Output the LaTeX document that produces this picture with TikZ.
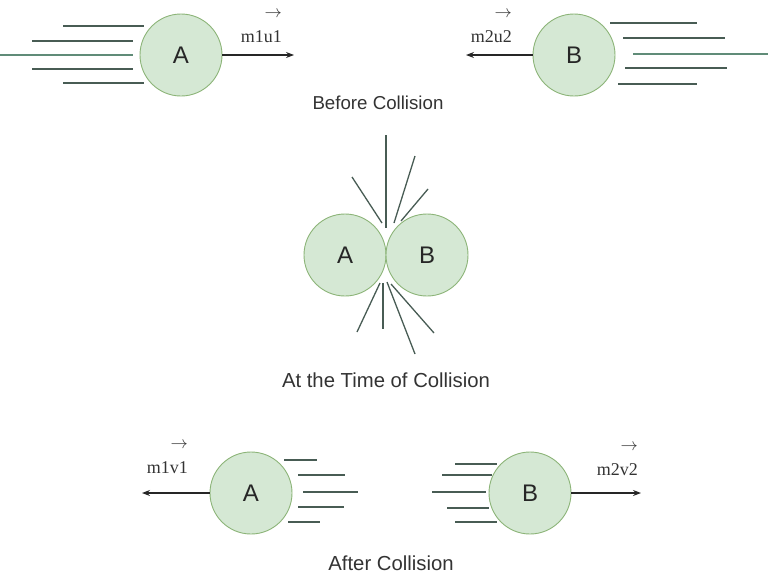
\documentclass[tikz,border=0pt]{standalone}
\usepackage{fontspec}
\usetikzlibrary{arrows.meta}
\setmainfont{Liberation Sans}
\newfontfamily\labelserif{Liberation Serif}
\definecolor{ballfill}{RGB}{213,232,212}
\definecolor{ballline}{RGB}{140,180,120}
\definecolor{streakcol}{RGB}{72,92,84}
\definecolor{streaklong}{RGB}{96,140,120}
\definecolor{textcol}{RGB}{51,51,51}
\begin{document}
\begin{tikzpicture}[x=1pt,y=-1pt,
    ball/.style={circle,draw=ballline,line width=0.9pt,fill=ballfill,minimum size=82pt,inner sep=0pt,
      font=\fontsize{24}{24}\selectfont,text=black!85},
    streak/.style={line width=1.3pt,streakcol},
    momentum/.style={line width=1.2pt,black!85,-{Stealth[length=8pt,width=6pt]}},
    vlabel/.style={anchor=south east,inner sep=0pt,align=right,font=\labelserif\fontsize{18}{25}\selectfont,text=black!80},
    caption/.style={font=\fontsize{20.3}{22}\selectfont,text=textcol}]
  \useasboundingbox (0,0) rectangle (768,576);
  % before collision
  \node[ball] (A1) at (181,55) {A};
  \node[ball] (B1) at (574,55) {B};
  \draw[streak](63,26)--(144,26);
  \draw[streak](32,41)--(133,41);
  \draw[streak,streaklong](0,55)--(133,55);
  \draw[streak](32,69)--(133,69);
  \draw[streak](63,83)--(144,83);
  \draw[streak](610,23)--(697,23);
  \draw[streak](623,38)--(725,38);
  \draw[streak,streaklong](633,54)--(768,54);
  \draw[streak](625,68)--(727,68);
  \draw[streak](618,84)--(697,84);
  \coordinate (u1) at (294,55);
  \coordinate (u2) at (466,55);
  \draw[momentum](A1.east)--(u1);
  \draw[momentum](B1.west)--(u2);
  \node[vlabel] (lu1) at (282,43) {$\rightarrow$\\m1u1};
  \node[vlabel] (lu2) at (512,43) {$\rightarrow$\\m2u2};
  \node[caption,font=\fontsize{18.7}{20}\selectfont] (t1) at (378,103) {Before Collision};
  % at the time of collision
  \node[ball] (A2) at (345,255) {A};
  \node[ball] (B2) at (427,255) {B};
  \draw[streak](386,135)--(386,228);
  \draw[streak](352,177)--(382,223);
  \draw[streak](415,156)--(394,223);
  \draw[streak](428,189)--(401,221);
  \draw[streak](380,283)--(357,332);
  \draw[streak](383,283)--(383,329);
  \draw[streak](387,282)--(415,354);
  \draw[streak](391,284)--(434,333);
  \node[caption] (t2) at (386,380) {At the Time of Collision};
  % after collision
  \node[ball] (A3) at (251,493) {A};
  \node[ball] (B3) at (530,493) {B};
  \draw[streak](284,460)--(317,460);
  \draw[streak](298,475)--(345,475);
  \draw[streak](303,492)--(358,492);
  \draw[streak](298,507)--(344,507);
  \draw[streak](288,522)--(320,522);
  \draw[streak](455,464)--(497,464);
  \draw[streak](442,475)--(492,475);
  \draw[streak](432,492)--(486,492);
  \draw[streak](447,508)--(489,508);
  \draw[streak](455,522)--(497,522);
  \coordinate (v1) at (142,493);
  \coordinate (v2) at (641,493);
  \draw[momentum](A3.west)--(v1);
  \draw[momentum](B3.east)--(v2);
  \node[vlabel] (lv1) at (188,474) {$\rightarrow$\\m1v1};
  \node[vlabel] (lv2) at (638,476) {$\rightarrow$\\m2v2};
  \node[caption] (t3) at (391,563) {After Collision};
\end{tikzpicture}
\end{document}
